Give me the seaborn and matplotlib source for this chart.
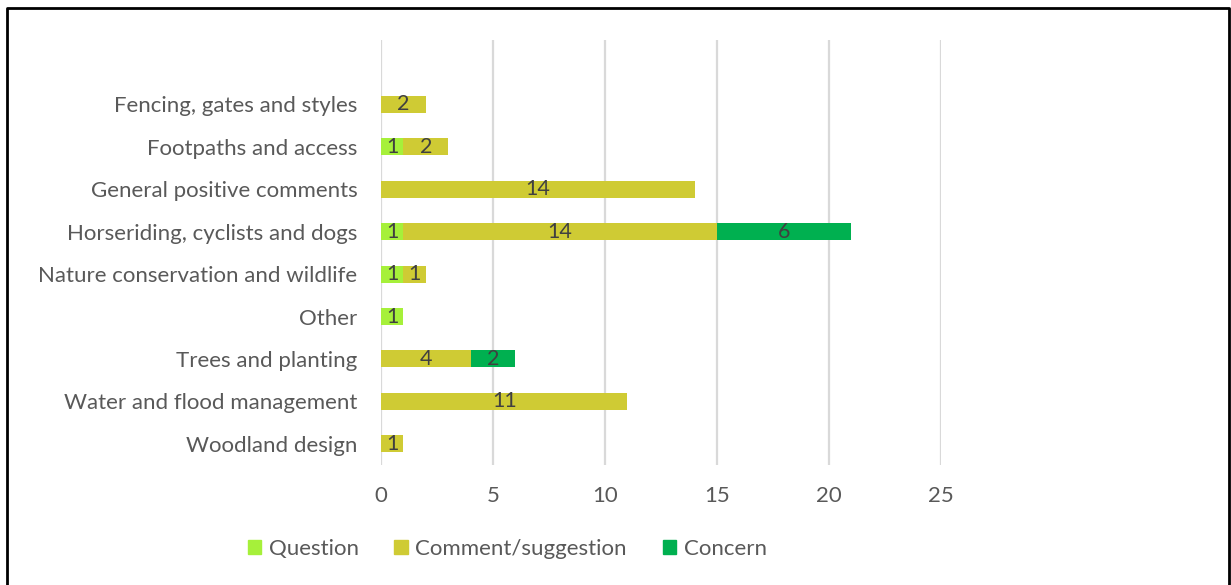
import numpy as np
import pandas as pd
import seaborn as sns
from matplotlib import pyplot as plt
from matplotlib.lines import Line2D
from matplotlib.patches import Patch

# data
categories = ["Fencing, gates and styles", "Footpaths and access", "General positive comments",
              "Horseriding, cyclists and dogs", "Nature conservation and wildlife", "Other",
              "Trees and planting", "Water and flood management", "Woodland design"]
question = [0, 1, 0, 1, 1, 1, 0, 0, 0]
comment = [2, 2, 14, 14, 1, 0, 4, 11, 1]
concern = [0, 0, 0, 6, 0, 0, 2, 0, 0]

series_names = ["Question", "Comment/suggestion", "Concern"]
colors = ["#A6F03A", "#CFCB34", "#00B050"]

sns.set_style("white")
plt.rcParams["font.family"] = ["Lato", "DejaVu Sans"]

df = pd.DataFrame({"category": categories, "Question": question,
                   "Comment/suggestion": comment, "Concern": concern})
df["cum_q"] = df["Question"]
df["cum_c"] = df["cum_q"] + df["Comment/suggestion"]
df["cum_co"] = df["cum_c"] + df["Concern"]

fig = plt.figure(figsize=(12.31, 5.85), dpi=100)
ax = fig.add_axes([0.3095, 0.2051, 0.4549, 0.7265])

# stacked bars: draw cumulative totals back to front
for col, c in zip(["cum_co", "cum_c", "cum_q"], colors[::-1]):
    sns.barplot(data=df, x=col, y="category", color=c, width=0.4,
                orient="h", ax=ax, saturation=1, linewidth=0)

# segment labels
for i, row in df.iterrows():
    left = 0
    for name in series_names:
        v = row[name]
        if v > 0:
            ax.text(left + v / 2, i, str(v), ha="center", va="center",
                    fontsize=15.5, color="#404040")
        left += v

ax.set_xlim(0, 25)
ax.set_ylim(8.5, -1.52)
ax.set_xticks(range(0, 26, 5))
ax.grid(axis="x", color="#D9D9D9", linewidth=1.6)
ax.set_axisbelow(True)
for s in ax.spines.values():
    s.set_visible(False)
ax.set_xlabel("")
ax.set_ylabel("")
ax.tick_params(axis="both", length=0, labelsize=16, labelcolor="#595959")
ax.tick_params(axis="y", pad=17)
ax.tick_params(axis="x", pad=15)

handles = [Patch(color=c) for c in colors]
fig.legend(handles, series_names, loc="center", bbox_to_anchor=(0.412, 0.0615),
           ncol=3, frameon=False, fontsize=16, handlelength=0.6, handleheight=0.6,
           columnspacing=1.6, handletextpad=0.35, labelcolor="#595959")

# outer border (top, left, right)
fig.add_artist(Line2D([0.006, 0.006, 0.9985, 0.9985], [0, 0.986, 0.986, 0],
                      transform=fig.transFigure, color="black", linewidth=2))

fig.savefig("out.png", dpi=100)
